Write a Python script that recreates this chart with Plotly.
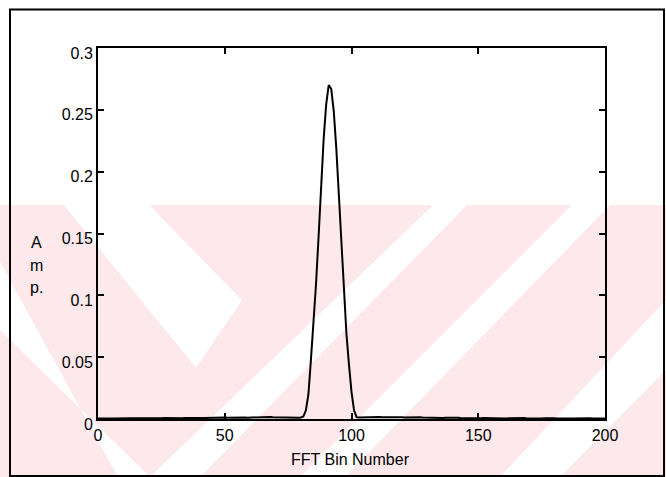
import plotly.graph_objects as go

# ---------------- data ----------------
floor_left = [  # bins 0..79 : noise floor, almost zero
    0.0005, 0.0006, 0.0004, 0.0005, 0.0006, 0.0005, 0.0004, 0.0005, 0.0006, 0.0005,
    0.0004, 0.0005, 0.0006, 0.0007, 0.0006, 0.0005, 0.0004, 0.0005, 0.0006, 0.0005,
    0.0006, 0.0007, 0.0006, 0.0005, 0.0006, 0.0007, 0.0008, 0.0007, 0.0006, 0.0007,
    0.0008, 0.0007, 0.0006, 0.0007, 0.0008, 0.0009, 0.0008, 0.0007, 0.0008, 0.0009,
    0.0010, 0.0009, 0.0008, 0.0009, 0.0010, 0.0011, 0.0010, 0.0011, 0.0014, 0.0018,
    0.0013, 0.0010, 0.0011, 0.0012, 0.0011, 0.0010, 0.0011, 0.0013, 0.0012, 0.0011,
    0.0012, 0.0014, 0.0015, 0.0016, 0.0015, 0.0014, 0.0016, 0.0018, 0.0017, 0.0015,
    0.0014, 0.0016, 0.0015, 0.0013, 0.0012, 0.0014, 0.0013, 0.0011, 0.0010, 0.0011,
]
main_lobe = [  # bins 80..102
    0.0012, 0.002, 0.007, 0.020, 0.048, 0.075, 0.109, 0.147, 0.188, 0.226,
    0.254, 0.270, 0.267, 0.249, 0.219, 0.180, 0.139, 0.101, 0.069, 0.044,
    0.022, 0.007, 0.0015,
]
floor_right = [  # bins 103..200
    0.0012, 0.0013, 0.0015, 0.0017, 0.0016, 0.0014, 0.0016, 0.0018, 0.0017, 0.0015,
    0.0016, 0.0018, 0.0017, 0.0015, 0.0014, 0.0016, 0.0017, 0.0015, 0.0013, 0.0014,
    0.0015, 0.0014, 0.0012, 0.0013, 0.0014, 0.0012, 0.0011, 0.0012, 0.0013, 0.0011,
    0.0010, 0.0011, 0.0010, 0.0009, 0.0010, 0.0011, 0.0009, 0.0008, 0.0009, 0.0010,
    0.0009, 0.0008, 0.0009, 0.0008, 0.0007, 0.0008, 0.0009, 0.0008, 0.0007, 0.0008,
    0.0007, 0.0006, 0.0007, 0.0008, 0.0007, 0.0006, 0.0007, 0.0006, 0.0005, 0.0006,
    0.0007, 0.0006, 0.0005, 0.0006, 0.0007, 0.0008, 0.0007, 0.0006, 0.0007, 0.0008,
    0.0007, 0.0006, 0.0005, 0.0006, 0.0007, 0.0006, 0.0005, 0.0006, 0.0005, 0.0004,
    0.0005, 0.0006, 0.0005, 0.0004, 0.0005, 0.0006, 0.0005, 0.0004, 0.0005, 0.0004,
    0.0005, 0.0006, 0.0005, 0.0004, 0.0005, 0.0004, 0.0005, 0.0005,
]
amplitude = floor_left + main_lobe + floor_right
bins = list(range(len(amplitude)))

x_ticks = [0, 50, 100, 150, 200]
y_ticks = [0, 0.05, 0.1, 0.15, 0.2, 0.25, 0.3]
y_tick_text = ["0", "0.05", "0.1", "0.15", "0.2", "0.25", "0.3"]
x_title = "FFT Bin Number"
y_title_letters = ["A", "m", "p."]

# ---------------- layout geometry (pixels) ----------------
W, H = 666, 477
L, R, T, B = 98, 605, 48, 419
PW, PH = R - L, B - T
FONT = "Liberation Sans, Arial, Helvetica, sans-serif"
FS = 16


def px(xp):
    return (xp - L) / PW


def py(yp):
    return (B - yp) / PH


def poly(points):
    return "M " + " L ".join(f"{px(a):.5f},{py(b):.5f}" for a, b in points) + " Z"


PINK = "#fde9ec"
shapes = []
# watermark: pale pink band with white diagonal stripes
shapes.append(dict(type="path", xref="paper", yref="paper", layer="below",
                   path=poly([(0, 205), (W, 205), (W, H), (0, H)]),
                   fillcolor=PINK, line=dict(width=0)))
white_polys = [
    [(64, 205), (149, 205), (242, 300), (196, 368)],
    [(0, 262), (0, 330), (150, 477), (118, 477)],
    [(433, 205), (467, 205), (200, 477), (150, 477)],
    [(572, 205), (610, 205), (345, 477), (300, 477)],
    [(666, 300), (666, 370), (560, 477), (500, 477)],
]
for p in white_polys:
    shapes.append(dict(type="path", xref="paper", yref="paper", layer="below",
                       path=poly(p), fillcolor="white", line=dict(width=0)))
# outer frame
shapes.append(dict(type="rect", xref="paper", yref="paper", layer="above",
                   x0=px(10), x1=px(664), y0=py(476), y1=py(9.5),
                   line=dict(color="black", width=2), fillcolor="rgba(0,0,0,0)"))

annotations = []
for i, ch in enumerate(y_title_letters):
    annotations.append(dict(text=ch, xref="paper", yref="paper",
                            x=px(36), y=py(243 + 22 * i), showarrow=False,
                            xanchor="center", yanchor="middle",
                            font=dict(family=FONT, size=FS, color="black")))
annotations.append(dict(text=x_title, xref="paper", yref="paper",
                        x=px(350), y=py(459), showarrow=False,
                        xanchor="center", yanchor="middle",
                        font=dict(family=FONT, size=FS, color="black")))

fig = go.Figure()
fig.add_trace(go.Scatter(x=bins, y=amplitude, mode="lines",
                         line=dict(color="black", width=2), hoverinfo="skip"))

axis_common = dict(showgrid=False, zeroline=False, showline=True, linecolor="black",
                   linewidth=2, mirror="ticks", ticks="inside", ticklen=6, tickwidth=1.5,
                   tickcolor="black",
                   tickfont=dict(family=FONT, size=FS, color="black"))
fig.update_layout(
    width=W, height=H,
    margin=dict(l=L, r=W - R, t=T, b=H - B, pad=0),
    paper_bgcolor="white", plot_bgcolor="rgba(0,0,0,0)",
    showlegend=False,
    xaxis=dict(range=[0, 200], tickvals=x_ticks, ticktext=[str(v) for v in x_ticks],
               ticklabelstandoff=1, **axis_common),
    yaxis=dict(range=[0, 0.3], tickvals=y_ticks, ticktext=y_tick_text, ticklabelshift=5,
               **axis_common),
    shapes=shapes, annotations=annotations,
)
fig.write_html("out.html", config={"displayModeBar": False},
               post_script="document.body.style.margin='0';document.body.style.overflow='hidden';")
